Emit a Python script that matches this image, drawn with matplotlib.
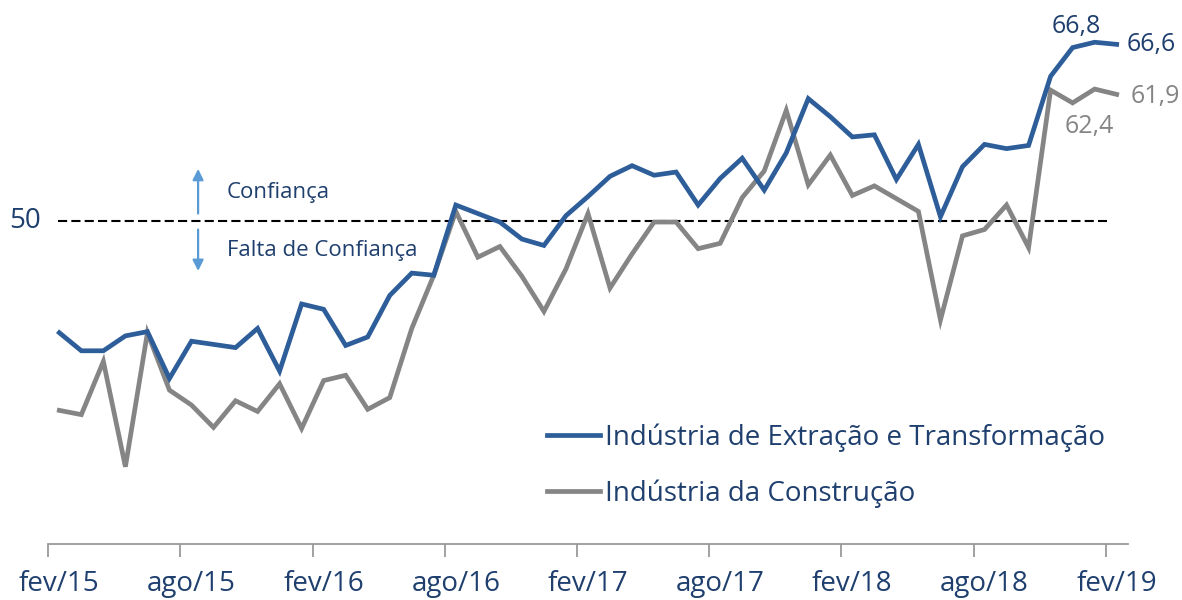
import matplotlib
matplotlib.use("Agg")
import matplotlib.pyplot as plt
import numpy as np

plt.rcParams['font.family'] = ['Open Sans', 'DejaVu Sans']

months = ["fev/15", "mar/15", "abr/15", "mai/15", "jun/15", "jul/15", "ago/15", "set/15", "out/15", "nov/15", "dez/15", "jan/16",
          "fev/16", "mar/16", "abr/16", "mai/16", "jun/16", "jul/16", "ago/16", "set/16", "out/16", "nov/16", "dez/16", "jan/17",
          "fev/17", "mar/17", "abr/17", "mai/17", "jun/17", "jul/17", "ago/17", "set/17", "out/17", "nov/17", "dez/17", "jan/18",
          "fev/18", "mar/18", "abr/18", "mai/18", "jun/18", "jul/18", "ago/18", "set/18", "out/18", "nov/18", "dez/18", "jan/19",
          "fev/19"]

extracao = [39.5, 37.8, 37.8, 39.2, 39.6, 35.2, 38.7, 38.4, 38.1, 39.9, 35.9, 42.2,
            41.7, 38.3, 39.1, 43.0, 45.1, 44.9, 51.5, 50.7, 49.9, 48.3, 47.7, 50.5,
            52.3, 54.2, 55.2, 54.3, 54.6, 51.5, 54.0, 55.9, 52.9, 56.4, 61.5, 59.8,
            57.9, 58.1, 53.9, 57.2, 50.4, 55.1, 57.2, 56.8, 57.1, 63.6, 66.3, 66.8,
            66.6]

construcao = [32.2, 31.8, 36.8, 26.9, 39.5, 34.1, 32.7, 30.6, 33.1, 32.1, 34.7, 30.5,
              35.0, 35.5, 32.3, 33.4, 39.9, 44.9, 50.9, 46.6, 47.6, 44.8, 41.5, 45.5,
              50.7, 43.7, 46.9, 49.9, 49.9, 47.4, 47.9, 52.2, 54.7, 60.4, 53.4, 56.2,
              52.4, 53.3, 52.1, 50.9, 40.7, 48.6, 49.2, 51.5, 47.5, 62.3, 61.1, 62.4,
              61.9]

series_names = ["Indústria de Extração e Transformação", "Indústria da Construção"]
tick_labels = ["fev/15", "ago/15", "fev/16", "ago/16", "fev/17", "ago/17", "fev/18", "ago/18", "fev/19"]

BLUE = "#2E5E99"
GRAY = "#858585"
NAVY = "#1F3F6E"
ARROW = "#5B9BD5"

fig = plt.figure(figsize=(11.82, 6.0), dpi=100)
ax = fig.add_axes([48.3 / 1182, 56 / 600, (1127.7 - 48.3) / 1182, 535.8 / 600])

x = np.arange(len(months))
ax.plot(x, extracao, color=BLUE, lw=3.4, solid_joinstyle='miter', label=series_names[0], zorder=3)
ax.plot(x, construcao, color=GRAY, lw=3.4, solid_joinstyle='miter', label=series_names[1], zorder=2)

ax.plot([-0.07, 47.55], [50, 50], color='black', lw=1.5, dashes=(4.4, 2.0), zorder=1)

ax.set_xlim(-0.5, len(months) - 0.5)
ax.set_ylim(19.64, 70)

for s in ['top', 'right', 'left']:
    ax.spines[s].set_visible(False)
ax.spines['bottom'].set_color('#9A9A9A')
ax.spines['bottom'].set_linewidth(1.3)

tick_pos = [months.index(t) for t in tick_labels]
ax.set_xticks(tick_pos)
ax.set_xticklabels(tick_labels)
ax.set_xticks(np.arange(-0.5, len(months), 6), minor=True)
ax.tick_params(axis='x', which='major', length=0, pad=19, labelsize=20, labelcolor=NAVY)
ax.tick_params(axis='x', which='minor', length=9, width=1.3, color='#9A9A9A')
ax.set_yticks([])

# 50 label
ax.text(-0.85, 50, "50", ha='right', va='center', fontsize=20, color=NAVY, clip_on=False)

# Confidence arrows and texts
ax.annotate("", xy=(6.3, 54.9), xytext=(6.3, 50.7),
            arrowprops=dict(arrowstyle='-|>', color=ARROW, lw=1.6, mutation_scale=16, shrinkA=0, shrinkB=0))
ax.annotate("", xy=(6.3, 45.3), xytext=(6.3, 49.2),
            arrowprops=dict(arrowstyle='-|>', color=ARROW, lw=1.6, mutation_scale=16, shrinkA=0, shrinkB=0))
ax.text(7.6, 52.7, "Confiança", ha='left', va='center', fontsize=16, color=NAVY)
ax.text(7.6, 47.2, "Falta de Confiança", ha='left', va='center', fontsize=16, color=NAVY)

# Data labels
ax.annotate("66,8", xy=(47, extracao[47]), xytext=(-13, 2), textcoords='offset points',
            ha='center', va='bottom', fontsize=18, color=NAVY)
ax.annotate("66,6", xy=(48, extracao[48]), xytext=(7, 0), textcoords='offset points',
            ha='left', va='center', fontsize=18, color=NAVY, annotation_clip=False)
ax.annotate("61,9", xy=(48, construcao[48]), xytext=(10, -1.5), textcoords='offset points',
            ha='left', va='center', fontsize=18, color=GRAY, annotation_clip=False)
ax.annotate("62,4", xy=(47, construcao[47]), xytext=(-4, -27), textcoords='offset points',
            ha='center', va='center', fontsize=18, color=GRAY)

leg = ax.legend(loc='upper left', bbox_to_anchor=(0.4518, 0.2464), frameon=False,
                fontsize=20, handlelength=1.9, handletextpad=0.2, labelspacing=1.0,
                borderaxespad=0)
for t in leg.get_texts():
    t.set_color(NAVY)

fig.savefig("out.png", dpi=100)
